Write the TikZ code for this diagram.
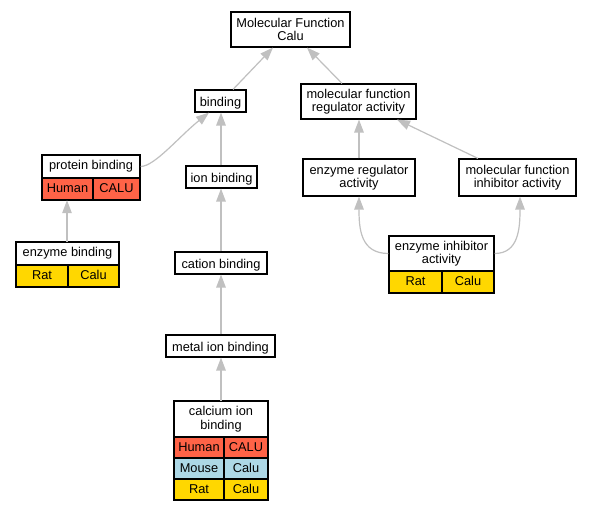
\documentclass[tikz,border=0pt]{standalone}
\usepackage{fontspec}
\setmainfont{Liberation Sans}
\usetikzlibrary{arrows.meta,calc}
\definecolor{human}{HTML}{FF6347}
\definecolor{mouse}{HTML}{ADD8E6}
\definecolor{rat}{HTML}{FFD700}
\definecolor{edgegray}{HTML}{C0C0C0}
\newcommand{\gofont}{\fontsize{12.8}{13.4}\selectfont}
\begin{document}
\begin{tikzpicture}[x=1pt,y=-1pt,
  box/.style={draw=black, line width=1.15pt, fill=white, inner sep=0pt, align=center, font=\gofont},
  one/.style={box, text height=10pt, text depth=0pt},
  ttl/.style={box, text height=9.3pt, text depth=4pt},
  cell/.style={box, text height=9.3pt, text depth=1.7pt},
  grp/.style={inner sep=0pt},
  link/.style={draw=edgegray, line width=1.2pt, -{Triangle[length=13pt,width=9.5pt]}}]
\fill[white] (0,0) rectangle (591,512);
\useasboundingbox (0,0) rectangle (591,512);
% plain nodes
\node[box, minimum width=119pt, minimum height=35pt] (mf) at (290.5,29.5) {Molecular Function\\Calu};
\node[one, minimum width=51pt, minimum height=22pt] (bind) at (220.5,101) {binding};
\node[box, minimum width=115pt, minimum height=35pt] (mfra) at (358.5,101.5) {molecular function\\regulator activity};
\node[one, minimum width=71pt, minimum height=22pt] (ion) at (221.5,177) {ion binding};
\node[box, minimum width=112pt, minimum height=37pt] (era) at (359,177.5) {enzyme regulator\\activity};
\node[box, minimum width=117pt, minimum height=37pt] (mfia) at (517.5,177.5) {molecular function\\inhibitor activity};
\node[one, minimum width=92pt, minimum height=22pt] (cat) at (221,263) {cation binding};
\node[one, minimum width=109pt, minimum height=22pt] (metal) at (220.5,346) {metal ion binding};
% protein binding
\node[grp, minimum width=98pt, minimum height=45pt] (pb) at (91,177.5) {};
\node[ttl, minimum width=98pt, minimum height=23pt] (pbt) at (91,166.5) {protein binding};
\node[cell, fill=human, minimum width=51pt, minimum height=22pt] (pbh) at (67.5,189) {Human};
\node[cell, fill=human, minimum width=47pt, minimum height=22pt] (pbc) at (116.5,189) {CALU};
% enzyme binding
\node[grp, minimum width=103pt, minimum height=45pt] (eb) at (67.5,264.5) {};
\node[ttl, minimum width=103pt, minimum height=23pt] (ebt) at (67.5,253.5) {enzyme binding};
\node[cell, fill=rat, minimum width=52pt, minimum height=22pt] (ebr) at (42,276) {Rat};
\node[cell, fill=rat, minimum width=51pt, minimum height=22pt] (ebc) at (93.5,276) {Calu};
% enzyme inhibitor activity
\node[grp, minimum width=105pt, minimum height=57pt] (eia) at (441.5,264.5) {};
\node[box, minimum width=105pt, minimum height=35pt] (eiat) at (441.5,253.5) {enzyme inhibitor\\activity};
\node[cell, fill=rat, minimum width=53pt, minimum height=22pt] (eiar) at (415.5,282) {Rat};
\node[cell, fill=rat, minimum width=52pt, minimum height=22pt] (eiac) at (468,282) {Calu};
% calcium ion binding
\node[grp, minimum width=94pt, minimum height=99pt] (ca) at (221,450.5) {};
\node[box, minimum width=94pt, minimum height=36pt] (cat2) at (221,419) {calcium ion\\binding};
\node[cell, fill=human, minimum width=50pt, minimum height=21pt] (cah) at (199,447.5) {Human};
\node[cell, fill=human, minimum width=44pt, minimum height=21pt] (cahc) at (246,447.5) {CALU};
\node[cell, fill=mouse, minimum width=50pt, minimum height=21pt] (cam) at (199,468.5) {Mouse};
\node[cell, fill=mouse, minimum width=44pt, minimum height=21pt] (camc) at (246,468.5) {Calu};
\node[cell, fill=rat, minimum width=50pt, minimum height=21pt] (car) at (199,489.5) {Rat};
\node[cell, fill=rat, minimum width=44pt, minimum height=21pt] (carc) at (246,489.5) {Calu};
% connectors
\draw[link] ([xshift=12.5pt]bind.north) -- ([xshift=-17.5pt]mf.south);
\draw[link] ([xshift=-16.5pt]mfra.north) -- ([xshift=16.5pt]mf.south);
\draw[link] (pbt.east) .. controls +(14,0) and +(-30,24) .. ([xshift=-11.5pt]bind.south);
\draw[link] ([xshift=-0.5pt]ion.north) -- ([xshift=-0.5pt]ion.north |- bind.south);
\draw[link] (cat.north) -- (cat.north |- ion.south);
\draw[link] ([xshift=0.5pt]metal.north) -- ([xshift=0.5pt]metal.north |- cat.south);
\draw[link] (ca.north) -- (ca.north |- metal.south);
\draw[link] ([xshift=-0.5pt]eb.north) -- ([xshift=-0.5pt]eb.north |- pb.south);
\draw[link] (era.north) -- (era.north |- mfra.south);
\draw[link] ([xshift=-39.5pt]mfia.north) -- ([xshift=38.5pt]mfra.south);
\draw[link] (eiat.west) .. controls +(-28,0) and +(0,32) .. (era.south);
\draw[link] (eiat.east) .. controls +(24,0) and +(0,32) .. ([xshift=2.5pt]mfia.south);
\end{tikzpicture}
\end{document}
